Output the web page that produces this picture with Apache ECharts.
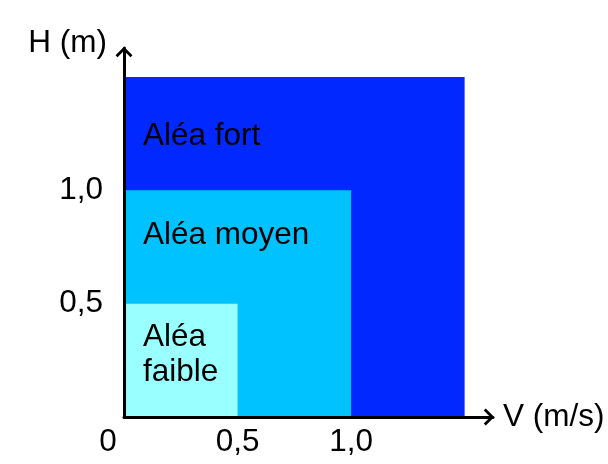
<!DOCTYPE html>
<html>
<head>
<meta charset="utf-8">
<script src="https://cdn.jsdelivr.net/npm/echarts@6/dist/echarts.min.js"></script>
<style>
html,body{margin:0;padding:0;background:#fff;}
#chart{width:608px;height:464px;}
</style>
</head>
<body>
<div id="chart"></div>
<script>
// Data
var zoneNames = ['Aléa fort', 'Aléa moyen', 'Aléa\nfaible'];
var zoneV = [1.5, 1.0, 0.5];   // V (m/s) upper limit
var zoneH = [1.5, 1.0, 0.5];   // H (m) upper limit
var xTickValues = [0, 0.5, 1.0];
var xTickLabels = ['0', '0,5', '1,0'];
var yTickValues = [0.5, 1.0];
var yTickLabels = ['0,5', '1,0'];

// Styles
var zoneColors = ['#0028FF', '#00C2FF', '#99FFFF'];
var labelTop = [41.5, 27.5, 16];
var FS = 31.5;
var FONT = "'Liberation Sans', Arial, sans-serif";
var chevron = 'path://M8.5,0 L17,8.5 L15,10.5 L8.5,4 L2,10.5 L0,8.5 Z';

function findLabel(vals, labels, v) {
  for (var i = 0; i < vals.length; i++) {
    if (Math.abs(vals[i] - v) < 1e-6) return labels[i];
  }
  return '';
}

var seriesData = zoneV.map(function (v, i) { return [v, zoneH[i]]; });

var chart = echarts.init(document.getElementById('chart'));
chart.setOption({
  animation: false,
  backgroundColor: '#fff',
  grid: { left: 124, right: 115, top: 48, bottom: 47 },
  xAxis: {
    type: 'value', min: 0, max: 1.625, interval: 0.5, z: 10,
    axisLine: {
      show: true, symbol: ['none', chevron], symbolSize: [17, 11], symbolOffset: [0, -4],
      lineStyle: { color: '#000', width: 3 }
    },
    axisTick: { show: false },
    splitLine: { show: false },
    axisLabel: {
      color: '#000', fontSize: FS, fontFamily: FONT, margin: 9,
      formatter: function (v) {
        var s = findLabel(xTickValues, xTickLabels, v);
        if (v === 0 && s) return '{z|' + s + '}';
        return s;
      },
      rich: { z: { fontSize: FS, fontFamily: FONT, color: '#000', padding: [0, 32, 0, 0] } }
    },
    name: 'V (m/s)', nameLocation: 'end', nameGap: 10,
    nameTextStyle: { color: '#000', fontSize: FS, fontFamily: FONT, padding: [6, 0, 0, 0] }
  },
  yAxis: {
    type: 'value', min: 0, max: 1.628, interval: 0.5, z: 10,
    axisLine: {
      show: true, symbol: ['none', chevron], symbolSize: [17, 11], symbolOffset: [0, -4],
      lineStyle: { color: '#000', width: 3 }
    },
    axisTick: { show: false },
    splitLine: { show: false },
    axisLabel: {
      color: '#000', fontSize: FS, fontFamily: FONT, margin: 21, padding: [10, 0, 0, 0],
      formatter: function (v) { return findLabel(yTickValues, yTickLabels, v); }
    },
    name: 'H (m)', nameLocation: 'end', nameGap: 5,
    nameTextStyle: { color: '#000', fontSize: FS, fontFamily: FONT, align: 'right', verticalAlign: 'middle', padding: [0, 17, 0, 0] }
  },
  series: [{
    type: 'custom',
    z: 2,
    data: seriesData,
    renderItem: function (params, api) {
      var i = params.dataIndex;
      var p0 = api.coord([0, 0]);
      var p1 = api.coord([api.value(0), api.value(1)]);
      return {
        type: 'group',
        children: [
          {
            type: 'rect',
            shape: { x: p0[0], y: p1[1], width: p1[0] - p0[0], height: p0[1] - p1[1] },
            style: { fill: zoneColors[i] }
          },
          {
            type: 'text',
            style: {
              text: zoneNames[i], x: p0[0] + 19, y: p1[1] + labelTop[i],
              fill: '#000', font: FS + 'px ' + FONT, lineHeight: 35,
              align: 'left', verticalAlign: 'top'
            }
          }
        ]
      };
    }
  }]
});
</script>
</body>
</html>
